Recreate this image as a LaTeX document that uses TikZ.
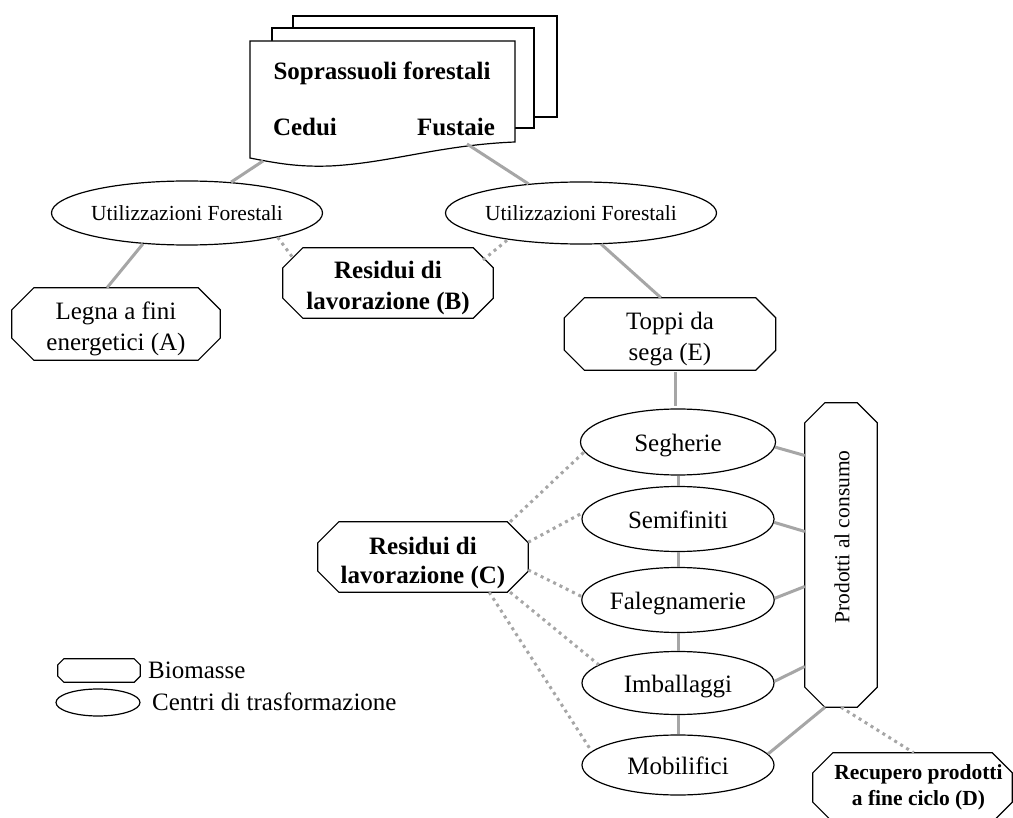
\documentclass[tikz,border=0pt]{standalone}
\usepackage{fontspec}
\setmainfont{Liberation Serif}
\usepackage{graphicx}
\usetikzlibrary{shapes.geometric,calc}
\definecolor{conn}{RGB}{166,166,166}
\newcommand{\fbig}{\fontsize{25}{31}\selectfont}
\newcommand{\fmid}{\fontsize{21.5}{26}\selectfont}
\newcommand{\lowr}{\rule{0pt}{27pt}}
% octagon outline drawn round a named rectangular node
\newcommand{\octo}[2][20]{%
  \draw[line width=1.2pt, line join=miter]
    ($(#2.north west)+(#1,0)$) -- ($(#2.north east)+(-#1,0)$) --
    ($(#2.north east)+(0,#1)$) -- ($(#2.south east)+(0,-#1)$) --
    ($(#2.south east)+(-#1,0)$) -- ($(#2.south west)+(#1,0)$) --
    ($(#2.south west)+(0,-#1)$) -- ($(#2.north west)+(0,#1)$) -- cycle;}
\tikzset{
  bio/.style={rectangle, inner sep=0pt, align=center, font=\fbig},
  ctr/.style={ellipse, draw, line width=1.2pt, fill=white, inner sep=0pt, font=\fbig},
  ctrtext/.style={text height=25pt, text depth=6pt},
  link/.style={draw=conn, line width=3pt},
  dots/.style={draw=conn, line width=3pt, dash pattern=on 3pt off 4pt},
  sheet/.style={draw, line width=1.2pt, fill=white}
}
\begin{document}
\begin{tikzpicture}[x=1pt,y=-1pt]
\useasboundingbox (0,0) rectangle (1013,818);

% multi-document shape
\path[sheet] (293,16) rectangle (557,117);
\path[sheet] (272,28) rectangle (534,128);
\path[sheet] (250,41) -- (515,41) -- (515,142) .. controls (440,145) and (390,163) .. (330,166)
  .. controls (300,167) and (280,164) .. (250,158) -- cycle;
\node[font=\fbig\bfseries] (sopr) at (382,73) {Soprassuoli forestali};
\node[font=\fbig\bfseries] (cedui) at (305,127) {Cedui};
\node[font=\fbig\bfseries] (fust) at (456,127) {Fustaie};
\coordinate (docL) at (263,161);
\coordinate (docR) at (467,144);

% nodes
\node[ctr, minimum width=223pt, minimum height=64pt, font=\fmid] (ut1) at (187,213) {Utilizzazioni Forestali};
\node[ctr, minimum width=223pt, minimum height=62pt, font=\fmid] (ut2) at (581,213) {Utilizzazioni Forestali};
\node[bio, minimum width=208pt, minimum height=72pt] (legA) at (116,324) {\lowr Legna a fini\\energetici (A)};
\node[bio, minimum width=210pt, minimum height=70pt, font=\fbig\bfseries] (resB) at (388,283) {\lowr Residui di\\lavorazione (B)};
\node[bio, minimum width=211pt, minimum height=72pt] (topE) at (670,334) {\lowr Toppi da\\sega (E)};
\node[ctr, ctrtext, minimum width=195pt, minimum height=66pt] (seg) at (678,442) {Segherie};
\node[ctr, ctrtext, minimum width=192pt, minimum height=65pt] (semi) at (678,519) {Semifiniti};
\node[ctr, ctrtext, minimum width=192pt, minimum height=65pt] (fale) at (678,600) {Falegnamerie};
\node[ctr, ctrtext, minimum width=192pt, minimum height=63pt] (imb) at (678,683) {Imballaggi};
\node[ctr, ctrtext, minimum width=192pt, minimum height=60pt] (mob) at (678,765) {Mobilifici};
\node[bio, minimum width=210pt, minimum height=70pt, font=\fontsize{25}{29}\selectfont\bfseries] (resC) at (423,557) {\rule{0pt}{29pt}Residui di\\lavorazione (C)};
\node[bio, minimum width=72pt, minimum height=304pt] (prod) at (841,555) {};
\node[rotate=90, font=\fmid] (prodT) at ($(prod.center)+(1,-18)$) {Prodotti al consumo};
\node[bio, minimum width=199pt, minimum height=69pt, font=\fmid\bfseries] (recD) at (912.5,787.5) {\hspace*{12pt}Recupero prodotti\\\hspace*{12pt}a fine ciclo (D)};
\octo[22]{legA}
\octo{resB}
\octo{topE}
\octo[21]{resC}
\octo{prod}
\octo{recD}

% legend
\node[bio, minimum width=82pt, minimum height=23pt] (legBio) at (99,670.5) {};
\octo[6]{legBio}
\node[ctr, minimum width=84pt, minimum height=27pt] (legCtr) at (98,702.5) {};
\node[font=\fbig, anchor=west, inner sep=0pt] (legBioT) at (148,670) {Biomasse};
\node[font=\fbig, anchor=west, inner sep=0pt] (legCtrT) at (152,702) {Centri di trasformazione};

% connectors
\draw[link] (docL) -- (ut1.35);
\draw[link] (docR) -- (ut2.151);
\draw[link] (ut1.215) -- (legA.104);
\draw[dots] (ut1.-15) -- ($(resB.center)+(-95,-25)$);
\draw[dots] ($(resB.center)+(95,-23)$) -- (ut2.200);
\draw[link] (ut2.-57) -- (topE.104);
\draw[link] ($(topE.south)+(5,2)$) -- ($(seg.north)+(-3,-2)$);
\draw[link] (seg.south) -- (semi.north);
\draw[link] (semi.south) -- (fale.north);
\draw[link] (fale.south) -- (imb.north);
\draw[link] (imb.south) -- (mob.north);
\draw[link] (seg.-3) -- (prod.110.4);
\draw[link] (semi.-2.4) -- (prod.147.4);
\draw[link] (fale.1.8) -- (prod.221.6);
\draw[link] (imb.1.2) -- (prod.252.8);
\draw[link] (mob.7.3) -- (prod.264);
\draw[dots] (prod.south) -- (recD.88);
\draw[dots] (resC.22.9) -- (seg.186.6);
\draw[dots] (resC.8.1) -- (semi.176);
\draw[dots] (resC.-7) -- (fale.178);
\draw[dots] (resC.-22.6) -- (imb.167.5);
\draw[dots] (resC.-28.3) -- (mob.171);
\end{tikzpicture}
\end{document}
